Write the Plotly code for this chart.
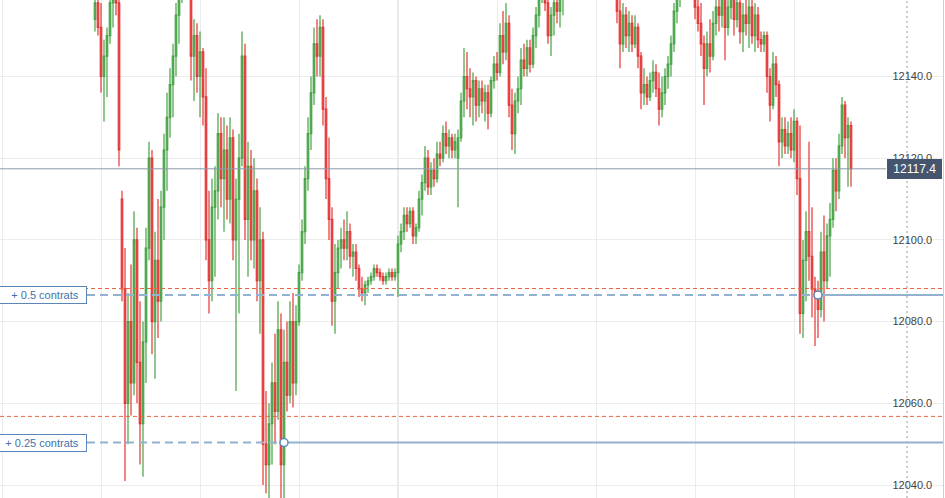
import plotly.graph_objects as go

# ---------------- data (prices) ----------------
open_ = [12154,12158,12152,12140,12145,12150,12158,12161,12158,12110,12088,12060,12080,12065,12100,12070,12055,12075,12098,12120,
         12080,12095,12085,12108,12122,12130,12138,12145,12155,12160,12165,12163,12162,12145,12150,12140,12146,12135,12100,12090,
         12108,12112,12126,12115,12122,12110,12125,12100,12110,12120,12145,12105,12118,12100,12112,12090,12100,12050,12045,12055,
         12065,12058,12078,12045,12070,12062,12080,12065,12080,12092,12102,12115,12126,12136,12148,12145,12152,12132,12115,12105,
         12085,12092,12098,12100,12098,12102,12096,12097,12093,12088,12087,12089,12090,12091,12093,12092,12091,12090,12091,12092,
         12091,12092,12099,12102,12106,12104,12107,12101,12103,12110,12114,12120,12113,12117,12115,12121,12120,12126,12123,12125,
         12122,12120,12125,12134,12140,12137,12135,12139,12133,12137,12134,12136,12131,12139,12143,12141,12150,12146,12153,12133,
         12126,12134,12137,12144,12142,12147,12143,12150,12155,12160,12163,12158,12150,12155,12158,12156,12160,12162,12166,12170,
         12168,12171,12169,12165,12168,12172,12170,12167,12169,12166,12168,12165,12167,12164,12162,12156,12148,12155,12150,12153,
         12148,12152,12145,12136,12138,12135,12139,12141,12137,12132,12136,12140,12143,12148,12156,12160,12163,12165,12167,12164,
         12162,12157,12153,12148,12142,12148,12145,12153,12157,12155,12160,12152,12157,12160,12154,12158,12151,12155,12153,12157,
         12150,12155,12149,12148,12150,12140,12133,12143,12138,12124,12127,12123,12126,12122,12129,12115,12082,12095,12102,12096,
         12088,12086,12083,12097,12090,12101,12105,12117,12112,12123,12133,12125,12128]
high = [12162,12161,12158,12149,12152,12162,12164,12165,12160,12112,12098,12087,12094,12107,12103,12085,12080,12103,12124,12122,
        12102,12110,12112,12126,12136,12142,12148,12158,12163,12168,12170,12168,12163,12154,12153,12151,12147,12142,12112,12115,
        12118,12131,12130,12130,12128,12130,12127,12115,12126,12151,12148,12124,12122,12120,12115,12108,12102,12063,12060,12070,
        12077,12085,12082,12078,12080,12085,12087,12084,12094,12105,12118,12130,12140,12152,12154,12155,12154,12135,12125,12108,
        12099,12100,12103,12105,12107,12104,12099,12099,12094,12091,12090,12091,12092,12094,12094,12093,12092,12092,12093,12093,
        12093,12101,12104,12108,12108,12108,12108,12104,12112,12116,12123,12122,12119,12120,12124,12124,12128,12129,12127,12126,
        12126,12127,12136,12147,12146,12142,12141,12140,12139,12139,12138,12138,12140,12145,12146,12153,12156,12158,12155,12137,
        12136,12140,12147,12148,12149,12149,12152,12157,12162,12167,12166,12160,12157,12160,12162,12163,12165,12168,12172,12174,
        12173,12176,12172,12170,12174,12176,12173,12171,12173,12170,12171,12169,12170,12168,12165,12160,12158,12157,12156,12155,
        12155,12153,12146,12142,12140,12141,12144,12143,12141,12140,12142,12145,12150,12158,12162,12166,12168,12170,12171,12168,
        12165,12161,12158,12150,12151,12154,12156,12160,12162,12163,12162,12160,12163,12163,12161,12162,12158,12160,12160,12159,
        12158,12157,12151,12151,12151,12142,12146,12145,12139,12130,12130,12129,12130,12132,12130,12128,12100,12107,12124,12108,
        12091,12090,12102,12106,12104,12109,12120,12120,12126,12135,12134,12130,12129]
low = [12151,12150,12136,12129,12135,12148,12152,12155,12118,12085,12041,12050,12057,12062,12060,12045,12042,12065,12095,12072,
       12066,12076,12080,12100,12112,12125,12130,12140,12148,12158,12160,12159,12139,12134,12136,12130,12128,12095,12082,12085,
       12091,12105,12108,12102,12105,12104,12095,12063,12082,12118,12100,12091,12095,12093,12085,12077,12040,12038,12034,12045,
       12050,12056,12034,12036,12058,12060,12059,12062,12079,12090,12099,12112,12122,12133,12140,12140,12128,12110,12100,12079,
       12077,12088,12093,12095,12095,12093,12091,12090,12086,12085,12084,12087,12089,12090,12091,12090,12089,12089,12090,12090,
       12090,12086,12097,12100,12102,12103,12099,12099,12102,12106,12112,12111,12111,12113,12114,12118,12119,12121,12120,12120,
       12120,12108,12124,12130,12132,12130,12128,12129,12130,12131,12129,12127,12130,12137,12139,12140,12143,12144,12130,12122,
       12121,12131,12133,12140,12140,12141,12142,12147,12152,12158,12156,12148,12145,12150,12153,12152,12155,12159,12162,12165,
       12164,12167,12163,12162,12165,12168,12165,12163,12164,12162,12163,12161,12162,12160,12153,12142,12146,12147,12146,12146,
       12147,12142,12132,12133,12133,12134,12136,12135,12128,12130,12133,12137,12140,12146,12153,12157,12159,12161,12162,12159,
       12154,12151,12145,12133,12140,12141,12144,12150,12151,12152,12144,12150,12154,12150,12152,12148,12146,12150,12147,12148,
       12146,12147,12146,12146,12136,12129,12132,12135,12118,12120,12121,12121,12120,12119,12111,12077,12076,12085,12090,12081,
       12074,12076,12081,12080,12088,12091,12103,12107,12110,12121,12120,12113,12113]
close = [12158,12152,12140,12145,12150,12158,12161,12158,12122,12088,12060,12080,12065,12100,12070,12055,12075,12098,12120,12080,
         12095,12085,12108,12122,12130,12138,12145,12155,12160,12165,12163,12162,12145,12150,12140,12146,12135,12100,12090,12108,
         12112,12126,12115,12122,12110,12125,12100,12110,12120,12145,12105,12118,12100,12112,12090,12100,12050,12045,12055,12065,
         12058,12078,12045,12070,12062,12080,12065,12080,12092,12102,12115,12126,12136,12148,12145,12152,12132,12115,12105,12085,
         12092,12098,12100,12098,12102,12096,12097,12093,12088,12087,12089,12090,12091,12093,12092,12091,12090,12091,12092,12091,
         12092,12099,12102,12106,12104,12107,12101,12103,12110,12114,12120,12113,12117,12115,12121,12120,12126,12123,12125,12122,
         12124,12125,12134,12140,12137,12135,12139,12133,12137,12134,12136,12131,12139,12143,12141,12150,12146,12153,12133,12126,
         12134,12137,12144,12142,12147,12143,12150,12155,12160,12163,12158,12150,12155,12158,12156,12160,12162,12166,12170,12168,
         12171,12169,12165,12168,12172,12170,12167,12169,12166,12168,12165,12167,12164,12162,12156,12148,12155,12150,12153,12148,
         12152,12145,12136,12138,12135,12139,12141,12137,12132,12136,12140,12143,12148,12156,12160,12163,12165,12167,12164,12162,
         12157,12153,12148,12142,12148,12145,12153,12157,12155,12160,12152,12157,12160,12154,12158,12151,12155,12153,12157,12150,
         12155,12149,12148,12150,12140,12133,12143,12138,12124,12127,12123,12126,12122,12129,12115,12082,12095,12102,12096,12088,
         12086,12083,12097,12090,12101,12105,12117,12112,12123,12133,12125,12128,12117.4]
bar_index = list(range(len(close)))

last_price = 12117.4
y_ticks = [12040, 12060, 12080, 12100, 12120, 12140]
y_tick_labels = ["12040.0", "12060.0", "12080.0", "12100.0", "12120.0", "12140.0"]

# positions (entries) and their stop levels
entry_levels = [12086.5, 12050.4]
entry_bars = [241, 63]
entry_labels = ["+ 0.5 contrats", "+ 0.25 contrats"]
stop_levels = [12088.1, 12056.8]

# ---------------- layout geometry ----------------
W, H = 945, 498
PLOT_W = 943
PX_PER_BAR = 3.0
FIRST_BAR_PX = 95
x_min = -FIRST_BAR_PX / PX_PER_BAR
x_max = x_min + PLOT_W / PX_PER_BAR
y_min, y_max = 12036.82, 12158.72
FONT = "Arial, Liberation Sans, sans-serif"


def px_to_x(p):
    return x_min + p / PX_PER_BAR


fig = go.Figure()
fig.add_trace(go.Candlestick(
    x=bar_index, open=open_, high=high, low=low, close=close,
    increasing=dict(line=dict(color="#3c9e3c", width=1.2), fillcolor="#6dbb6d"),
    decreasing=dict(line=dict(color="#e52a2a", width=1.2), fillcolor="#ec6464"),
    opacity=0.95, showlegend=False, hoverinfo="skip",
))

shapes = []
# darker session separator and crosshair
shapes.append(dict(type="line", xref="x", yref="paper", x0=px_to_x(398), x1=px_to_x(398), y0=0, y1=1,
                   line=dict(color="#d2d2d2", width=1), layer="below"))
shapes.append(dict(type="line", xref="x", yref="paper", x0=px_to_x(907), x1=px_to_x(907), y0=0, y1=1,
                   line=dict(color="#9a9a9a", width=1, dash="2px,3px"), layer="below"))
# last price line
shapes.append(dict(type="line", xref="x", yref="y", x0=x_min, x1=px_to_x(886), y0=last_price, y1=last_price,
                   line=dict(color="#8d99ab", width=1)))
for lvl, stop, bar in zip(entry_levels, stop_levels, entry_bars):
    shapes.append(dict(type="line", xref="x", yref="y", x0=x_min, x1=x_max, y0=stop, y1=stop,
                       line=dict(color="#e8653f", width=1, dash="4px,3px")))
    shapes.append(dict(type="line", xref="x", yref="y", x0=px_to_x(87), x1=bar, y0=lvl, y1=lvl,
                       line=dict(color="#93b2d2", width=2, dash="8px,5px")))
    shapes.append(dict(type="line", xref="x", yref="y", x0=bar, x1=x_max, y0=lvl, y1=lvl,
                       line=dict(color="#93b2d2", width=2)))
# entry markers (drawn on top of the lines)
for lvl, bar in zip(entry_levels, entry_bars):
    shapes.append(dict(type="circle", xref="x", yref="y", xsizemode="pixel", ysizemode="pixel",
                       xanchor=bar, yanchor=lvl, x0=-4, x1=4, y0=-4, y1=4,
                       fillcolor="white", line=dict(color="#5e8cbc", width=1.5)))
fig.update_layout(shapes=shapes)

annotations = []
for lvl, lab in zip(entry_levels, entry_labels):
    annotations.append(dict(xref="x", yref="y", x=px_to_x(87), y=lvl, xanchor="right", yanchor="middle",
                            text="&nbsp;" * 5 + lab + "&nbsp;&nbsp;", showarrow=False,
                            font=dict(family=FONT, size=11, color="#3f72a8"),
                            bgcolor="white", bordercolor="#5b87b8", borderwidth=1, borderpad=2))
annotations.append(dict(xref="x", yref="y", x=px_to_x(942), y=last_price, xanchor="right", yanchor="middle",
                        text="&nbsp;" + f"{last_price:.1f}" + "&nbsp;", showarrow=False,
                        font=dict(family=FONT, size=12, color="white"),
                        bgcolor="#46556e", bordercolor="#46556e", borderwidth=1, borderpad=2))
fig.update_layout(annotations=annotations)

fig.update_layout(
    width=W, height=H,
    margin=dict(l=0, r=W - PLOT_W, t=0, b=0, pad=0),
    paper_bgcolor="white", plot_bgcolor="white",
    font=dict(family=FONT, size=11, color="#444"),
    xaxis=dict(range=[x_min, x_max], type="linear", showticklabels=False, showgrid=True,
               gridcolor="#ececec", tick0=2, dtick=33, zeroline=False, rangeslider=dict(visible=False),
               fixedrange=True),
    yaxis=dict(range=[y_min, y_max], side="right", ticklabelposition="inside", tickvals=y_ticks,
               ticktext=y_tick_labels, showgrid=True, gridcolor="#ececec", zeroline=False,
               showline=True, linecolor="#cfcfcf", linewidth=1, ticks="", ticklabelstandoff=10,
               tickfont=dict(size=11, color="#444")),
    showlegend=False,
)

fig.write_html("out.html", config={"displayModeBar": False},
               post_script="document.body.style.margin='0';document.body.style.overflow='hidden';")
